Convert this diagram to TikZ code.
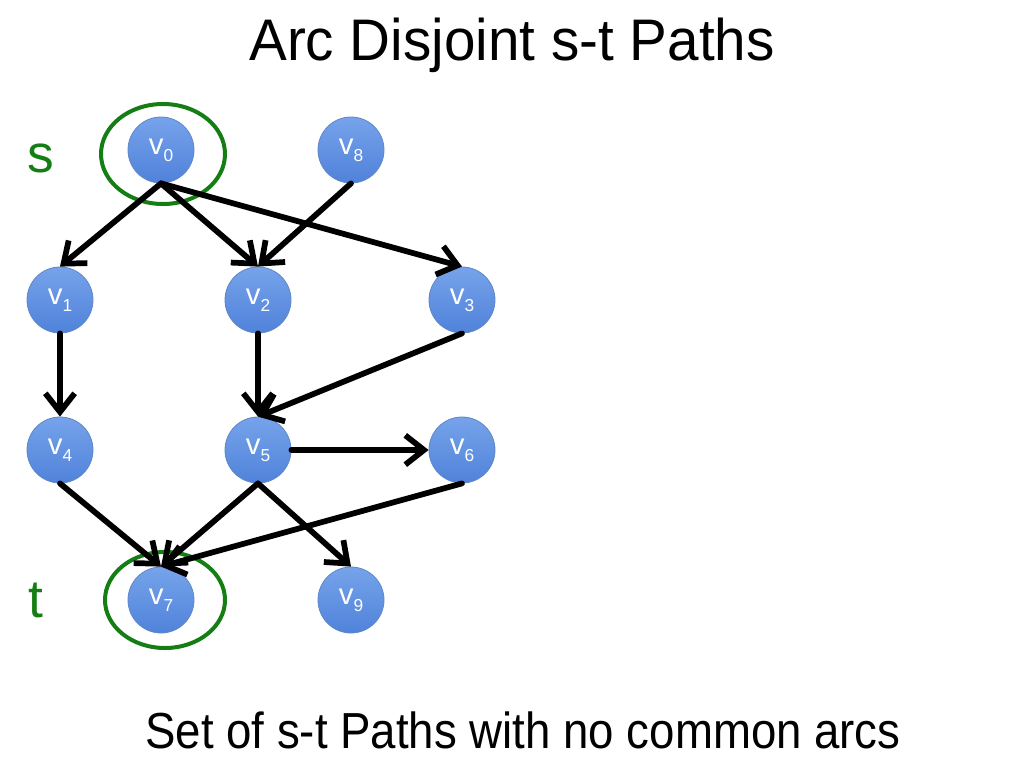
\documentclass[tikz,border=0pt]{standalone}
\usepackage{fontspec}
\setmainfont{Liberation Sans}
\usetikzlibrary{arrows.meta,shapes.geometric}

\definecolor{vfill}{RGB}{80,130,218}
\definecolor{vtop}{RGB}{118,163,234}
\definecolor{vline}{RGB}{95,135,200}
\definecolor{ringgreen}{RGB}{20,125,20}

\tikzset{
  vertex/.style={circle, minimum size=49.5pt, inner sep=0pt, draw=vline, line width=0.6pt,
    top color=vtop, bottom color=vfill, text=white, font=\fontsize{22}{22}\selectfont},
  arc/.style={line width=4.3pt, line cap=round, -{Straight Barb[length=14pt,width=22pt,line width=4.3pt]}},
  ring/.style={ellipse, draw=ringgreen, line width=3pt, inner sep=0pt},
  endlabel/.style={text=ringgreen, font=\fontsize{40}{40}\selectfont, inner sep=0pt}
}
\newcommand{\vlab}[1]{v\raisebox{-0.45ex}{\fontsize{13}{13}\selectfont #1}}

\begin{document}
\begin{tikzpicture}[x=0.75pt,y=0.75pt,yscale=-1,xscale=1]
\useasboundingbox (0,0) rectangle (1024,768);

% Title
\node (title) at (512,45) {\fontsize{44}{44}\selectfont\scalebox{0.965}[1]{Arc Disjoint s-t Paths}};
% Caption
\node (caption) at (523,730) {\fontsize{38}{38}\selectfont\scalebox{0.9}[1]{Set of s-t Paths with no common arcs}};

% Vertices
\node [vertex] (v0) at (161,150) {\vlab{0}};
\node [vertex] (v8) at (351,150) {\vlab{8}};
\node [vertex] (v1) at (60,300) {\vlab{1}};
\node [vertex] (v2) at (258,300) {\vlab{2}};
\node [vertex] (v3) at (462,300) {\vlab{3}};
\node [vertex] (v4) at (60,450) {\vlab{4}};
\node [vertex] (v5) at (258,450) {\vlab{5}};
\node [vertex] (v6) at (462,450) {\vlab{6}};
\node [vertex] (v7) at (161,600) {\vlab{7}};
\node [vertex] (v9) at (351,600) {\vlab{9}};

% Source and sink rings
\node [ring, minimum width=93pt, minimum height=75pt] (sring) at (163,154) {};
\node [ring, minimum width=90pt, minimum height=72pt] (tring) at (165,600) {};
\node [endlabel] (slab) at (41,158) {s};
\node [endlabel] (tlab) at (36,600) {t};

% Arcs
\draw [arc] (v0.south) -- (v1.north);
\draw [arc] (v0.south) -- (v2.north);
\draw [arc] (v0.south) -- (v3.north);
\draw [arc] (v8.south) -- (v2.north);
\draw [arc] (v1.south) -- (v4.north);
\draw [arc] (v2.south) -- (v5.north);
\draw [arc] (v3.south) -- (v5.north);
\draw [arc] (v5.east) -- (v6.west);
\draw [arc] (v4.south) -- (v7.north);
\draw [arc] (v5.south) -- (v7.north);
\draw [arc] (v6.south) -- (v7.north);
\draw [arc] (v5.south) -- (v9.north);

\end{tikzpicture}
\end{document}
